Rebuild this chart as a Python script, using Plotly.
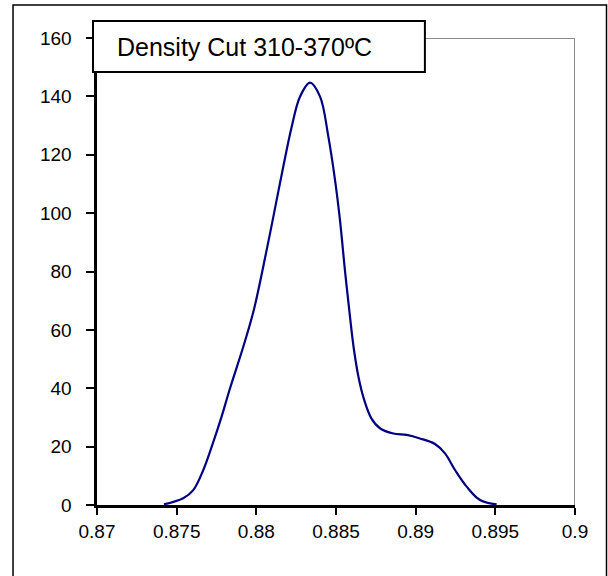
import plotly.graph_objects as go

# density curve
density = [0.8742, 0.87541, 0.87604, 0.87667, 0.8772, 0.87782, 0.87835, 0.87918,
           0.87985, 0.88065, 0.88107, 0.88169, 0.88222, 0.88274, 0.88337, 0.88400,
           0.88452, 0.88494, 0.88525, 0.88556, 0.8859, 0.88613, 0.88645, 0.88677,
           0.88722, 0.88776, 0.8886, 0.88944, 0.89027, 0.89121, 0.89184, 0.89247,
           0.8932, 0.89404, 0.89508]
freq = [0.2, 2.3, 5.1, 12, 20, 30.3, 40, 54.2,
        67, 87.4, 98.8, 115.9, 129.6, 139.9, 144.7, 139.9,
        126.2, 111.3, 97.6, 80.5, 63.4, 53.1, 42.8, 36,
        29.7, 26.3, 24.5, 24, 22.8, 20.9, 17.7, 12,
        6.3, 1.7, 0.2]

title_text = "Density Cut 310-370ºC"
xticks = [0.87, 0.875, 0.88, 0.885, 0.89, 0.895, 0.9]
xlabels = ["0.87", "0.875", "0.88", "0.885", "0.89", "0.895", "0.9"]

fig = go.Figure()
fig.add_trace(go.Scatter(x=density, y=freq, mode="lines",
                         line=dict(color="#000080", width=2.2, shape="spline", smoothing=1.0),
                         hoverinfo="skip"))

# gray top / right frame of the plot area
fig.add_shape(type="line", xref="x", yref="y", x0=0.87, x1=0.9, y0=160, y1=160,
              line=dict(color="#8c8c8c", width=2))
fig.add_shape(type="line", xref="x", yref="y", x0=0.9, x1=0.9, y0=0, y1=160,
              line=dict(color="#8c8c8c", width=2))

# outer border
fig.add_shape(type="rect", xref="paper", yref="paper", x0=-0.1757, x1=1.0659,
              y0=-0.2, y1=1.0707, line=dict(color="black", width=1.5), layer="below")

# title box
fig.add_shape(type="rect", xref="paper", yref="paper", x0=-0.0084, x1=0.686,
              y0=0.927, y1=1.0364, fillcolor="white",
              line=dict(color="black", width=2), layer="above")
fig.add_annotation(text=title_text, xref="paper", yref="paper", x=0.0377, y=0.981,
                   xanchor="left", yanchor="middle", showarrow=False,
                   font=dict(size=25, color="black"))

fig.update_xaxes(range=[0.87, 0.9], tickvals=xticks, ticktext=xlabels,
                 ticks="outside", ticklen=7, tickwidth=1.5, tickcolor="black",
                 showline=True, linecolor="black", linewidth=3,
                 showgrid=False, zeroline=False, tickfont=dict(size=19, color="black"))
fig.update_yaxes(range=[0, 160], dtick=20, ticks="outside", ticklen=8, tickwidth=1.5,
                 tickcolor="black", showline=True, linecolor="black", linewidth=3,
                 ticksuffix="\u00a0\u00a0",
                 showgrid=False, zeroline=False, tickfont=dict(size=19, color="black"))

fig.update_layout(width=608, height=576, showlegend=False,
                  margin=dict(l=97, r=33, t=38, b=71),
                  paper_bgcolor="white", plot_bgcolor="white",
                  modebar=dict(bgcolor="rgba(0,0,0,0)", color="rgba(0,0,0,0)",
                               activecolor="rgba(0,0,0,0)"),
                  font=dict(family="Arial, Liberation Sans, sans-serif", color="black"))

# page has a default 8px body margin; drop it so the chart sits at the corner
fig.write_html("out.html", config={"displaylogo": False},
               post_script="document.body.style.margin='0';")
